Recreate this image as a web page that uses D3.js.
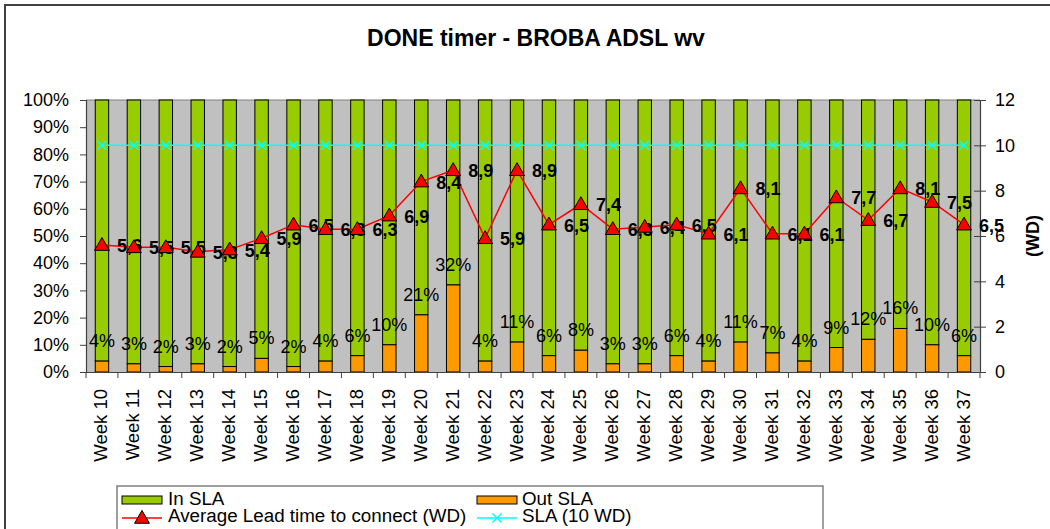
<!DOCTYPE html>
<html><head><meta charset="utf-8">
<script src="https://cdn.jsdelivr.net/npm/d3@7/dist/d3.min.js"></script>
<style>
html,body{margin:0;padding:0;background:#fff;}
svg{display:block;font-family:"Liberation Sans",Arial,sans-serif;}
</style></head>
<body><svg id="c" width="1050" height="529"></svg>
<script>
const weeks = ["Week 10","Week 11","Week 12","Week 13","Week 14","Week 15","Week 16","Week 17","Week 18","Week 19","Week 20","Week 21","Week 22","Week 23","Week 24","Week 25","Week 26","Week 27","Week 28","Week 29","Week 30","Week 31","Week 32","Week 33","Week 34","Week 35","Week 36","Week 37"];
const outSLA = [4,3,2,3,2,5,2,4,6,10,21,32,4,11,6,8,3,3,6,4,11,7,4,9,12,16,10,6];
const inSLA = outSLA.map(v => 100 - v);
const leadTime = [5.6,5.5,5.5,5.3,5.4,5.9,6.5,6.3,6.3,6.9,8.4,8.9,5.9,8.9,6.5,7.4,6.3,6.4,6.5,6.1,8.1,6.1,6.1,7.7,6.7,8.1,7.5,6.5];
const slaTarget = weeks.map(() => 10);
const leftTicks = [0,10,20,30,40,50,60,70,80,90,100];
const rightTicks = [0,2,4,6,8,10,12];
const title = "DONE timer - BROBA ADSL wv";

const svg = d3.select("#c");
const L = 86, R = 980, T = 100, B = 372;

// outer chart border
svg.append("rect").attr("x",5).attr("y",5).attr("width",1060).attr("height",540)
  .attr("fill","#fff").attr("stroke","#404040").attr("stroke-width",2);

svg.append("text").attr("x",536).attr("y",46).attr("text-anchor","middle")
  .attr("font-size",23).attr("font-weight","bold").text(title);

const x = d3.scaleBand().domain(weeks).range([L,R]).padding(0);
const yL = d3.scaleLinear().domain([0,100]).range([B,T]);
const yR = d3.scaleLinear().domain([0,12]).range([B,T]);
const bw = x.bandwidth()*0.42;
const cx = d => x(d) + x.bandwidth()/2;

// plot area
svg.append("rect").attr("x",L).attr("y",T).attr("width",R-L).attr("height",B-T).attr("fill","#c0c0c0");
svg.append("line").attr("x1",L).attr("x2",R).attr("y1",T).attr("y2",T).attr("stroke","#808080");

// bars
const g = svg.append("g");
weeks.forEach((w,i) => {
  g.append("rect").attr("x",cx(w)-bw/2).attr("y",yL(outSLA[i]+inSLA[i])).attr("width",bw)
    .attr("height",yL(outSLA[i]) - yL(outSLA[i]+inSLA[i])).attr("fill","#99cc00").attr("stroke","#000").attr("stroke-width",1);
  g.append("rect").attr("x",cx(w)-bw/2).attr("y",yL(outSLA[i])).attr("width",bw)
    .attr("height",yL(0)-yL(outSLA[i])).attr("fill","#ff9900").attr("stroke","#000").attr("stroke-width",1);
});

// axes
const axL = svg.append("g").attr("transform",`translate(${L},0)`)
  .call(d3.axisLeft(yL).tickValues(leftTicks).tickFormat(d => d+"%").tickSize(6).tickPadding(11));
const axR = svg.append("g").attr("transform",`translate(${R},0)`)
  .call(d3.axisRight(yR).tickValues(rightTicks).tickSize(6).tickPadding(9));
axR.selectAll(".tick line").attr("x1",-6);
const axB = svg.append("g").attr("transform",`translate(0,${B})`)
  .call(d3.axisBottom(x).tickSize(0).tickFormat(""));
[axL,axR,axB].forEach(a => {
  a.select(".domain").attr("stroke","#404040").attr("stroke-width",1.2);
  a.selectAll(".tick line").attr("stroke","#404040");
  a.selectAll("text").attr("font-size",18).attr("fill","#000").attr("font-family","Liberation Sans, Arial, sans-serif");
});
// category boundary ticks
const bounds = weeks.map(w => x(w)).concat([R]);
svg.append("g").selectAll("line").data(bounds).join("line")
  .attr("x1",d=>d).attr("x2",d=>d).attr("y1",B).attr("y2",B+6).attr("stroke","#404040");
// category labels
svg.append("g").selectAll("text").data(weeks).join("text")
  .attr("transform",d=>`translate(${cx(d)-1},${389}) rotate(-90)`)
  .attr("text-anchor","end").attr("dy","0.35em").attr("font-size",18.5).text(d=>d);

svg.append("text").attr("transform","translate(1033,236) rotate(-90)")
  .attr("text-anchor","middle").attr("dy","0.35em").attr("font-size",18).attr("font-weight","bold").text("(WD)");

// SLA line
svg.append("path").datum(slaTarget).attr("fill","none").attr("stroke","#00ffff").attr("stroke-width",1.5)
  .attr("d", d3.line().x((d,i)=>cx(weeks[i])).y(d=>yR(d)));
const xm = svg.append("g");
slaTarget.forEach((v,i)=>{
  const px = cx(weeks[i]), py = yR(v), s = 4.5;
  xm.append("path").attr("d",`M${px-s},${py-s}L${px+s},${py+s}M${px-s},${py+s}L${px+s},${py-s}`)
    .attr("stroke","#00ffff").attr("stroke-width",1.5);
});

// percent labels
svg.append("g").selectAll("text").data(outSLA).join("text")
  .attr("x",(d,i)=>cx(weeks[i])).attr("y",d=>yL(d)-14).attr("text-anchor","middle")
  .attr("font-size",18).text(d=>d+"%");

// lead line
svg.append("path").datum(leadTime).attr("fill","none").attr("stroke","#ff0000").attr("stroke-width",1.5)
  .attr("d", d3.line().x((d,i)=>cx(weeks[i])).y(d=>yR(d)));
const fmt = d => d3.format(".1f")(d).replace(".",",");
svg.append("g").selectAll("text").data(leadTime).join("text")
  .attr("x",(d,i)=>cx(weeks[i])+15).attr("y",d=>yR(d)+7)
  .attr("font-size",18).attr("font-weight","bold").text(fmt);
const tri = d3.symbol().type(d3.symbolTriangle).size(95);
svg.append("g").selectAll("path").data(leadTime).join("path")
  .attr("transform",(d,i)=>`translate(${cx(weeks[i])},${yR(d)+1})`)
  .attr("d",tri).attr("fill","#ff0000").attr("stroke","#000").attr("stroke-width",1);

// legend
const lg = svg.append("g");
lg.append("rect").attr("x",117).attr("y",486).attr("width",706).attr("height",60)
  .attr("fill","#fff").attr("stroke","#808080").attr("stroke-width",1.5);
lg.append("rect").attr("x",122).attr("y",496).attr("width",40).attr("height",8).attr("fill","#99cc00").attr("stroke","#000");
lg.append("text").attr("x",168).attr("y",505).attr("font-size",18.8).text("In SLA");
lg.append("rect").attr("x",477).attr("y",496).attr("width",40).attr("height",8).attr("fill","#ff9900").attr("stroke","#000");
lg.append("text").attr("x",522).attr("y",505).attr("font-size",18.8).text("Out SLA");
lg.append("line").attr("x1",122).attr("x2",162).attr("y1",518).attr("y2",518).attr("stroke","#ff0000").attr("stroke-width",1.5);
lg.append("path").attr("transform","translate(142,519)").attr("d",tri).attr("fill","#ff0000").attr("stroke","#000");
lg.append("text").attr("x",168).attr("y",522).attr("font-size",18.8).text("Average Lead time to connect (WD)");
lg.append("line").attr("x1",477).attr("x2",517).attr("y1",518).attr("y2",518).attr("stroke","#00ffff").attr("stroke-width",1.5);
lg.append("path").attr("d","M492.5,513.5L501.5,522.5M492.5,522.5L501.5,513.5").attr("stroke","#00ffff").attr("stroke-width",1.5);
lg.append("text").attr("x",522).attr("y",522).attr("font-size",18.8).text("SLA (10 WD)");
</script></body></html>
